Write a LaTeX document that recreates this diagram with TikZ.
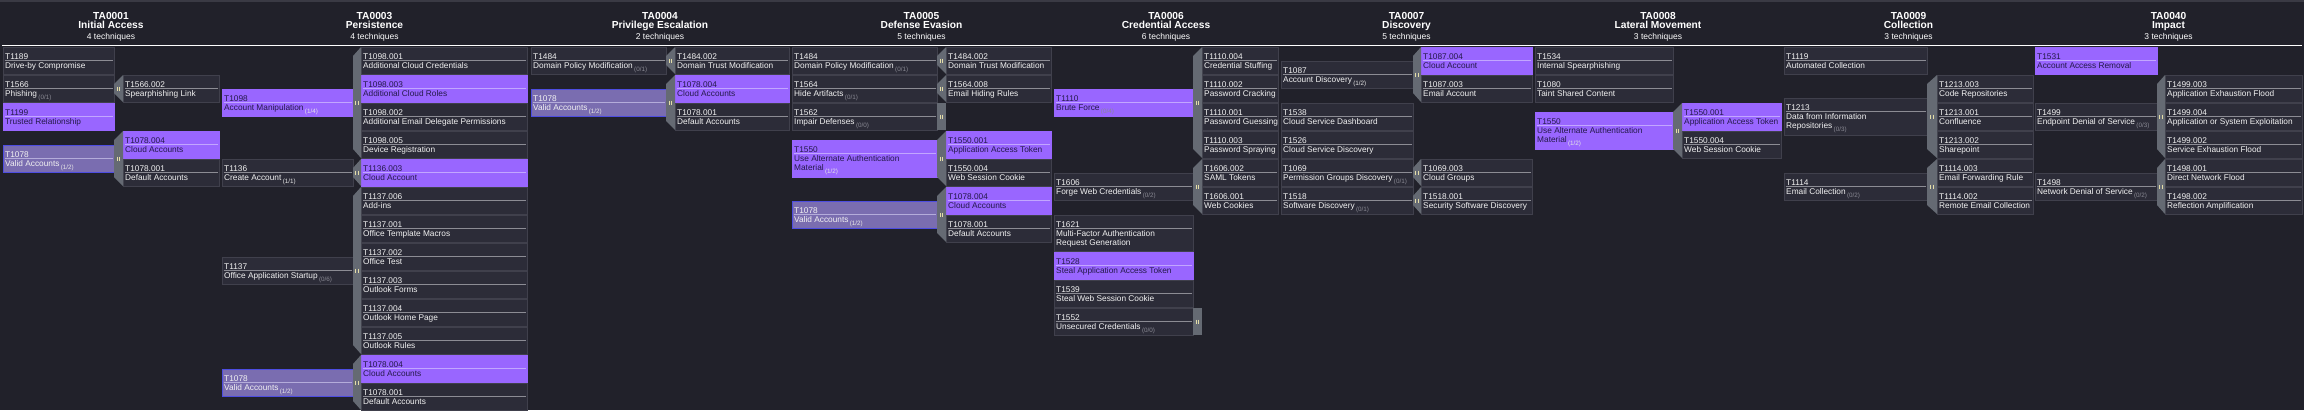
\documentclass[tikz,border=0pt]{standalone}
\usepackage{fontspec}
\setmainfont{Liberation Sans}
\usetikzlibrary{calc}
\usepackage{xcolor}
\definecolor{bgdark}{HTML}{21212A}
\definecolor{topstrip}{HTML}{3A3A44}
\definecolor{cellplainfill}{HTML}{2C2C38}
\definecolor{cellplainedge}{HTML}{40404C}
\definecolor{cellplainsep}{HTML}{8C8C94}
\definecolor{cellplaintxt}{HTML}{F2F2F2}
\definecolor{cellhifill}{HTML}{9966FF}
\definecolor{cellhisep}{HTML}{C2A6FF}
\definecolor{cellhitxt}{HTML}{24194A}
\definecolor{cellpartfill}{HTML}{7A6DB0}
\definecolor{cellpartedge}{HTML}{4D4DE0}
\definecolor{cellpartsep}{HTML}{B4ACDA}
\definecolor{cellparttxt}{HTML}{F2F2F2}
\definecolor{sidegray}{HTML}{656A73}
\definecolor{gripcol}{HTML}{E4DDA8}
\definecolor{cntoff}{HTML}{8A8A94}
\definecolor{cnton}{HTML}{E6E6E6}
\newcommand{\Cnt}[1]{\,\raisebox{-2.5pt}{\fontsize{6.3}{7}\selectfont\textcolor{cntoff}{(#1)}}}
\newcommand{\CntOn}[1]{\,\raisebox{-2.5pt}{\fontsize{6.3}{7}\selectfont\textcolor{cnton}{(#1)}}}
\tikzset{
  cellplain/.style={draw=cellplainedge,fill=cellplainfill,line width=0.8pt,inner sep=0pt,outer sep=0pt},
  cellhi/.style={draw=cellhifill,fill=cellhifill,line width=0.8pt,inner sep=0pt,outer sep=0pt},
  cellpart/.style={draw=cellpartedge,fill=cellpartfill,line width=0.8pt,inner sep=0pt,outer sep=0pt},
  celltext/.style={anchor=base west,inner sep=0pt,font=\fontsize{8.3}{9}\selectfont},
  headtext/.style={anchor=base,inner sep=0pt,text=white},
  sidebar/.style={fill=sidegray},
  grip/.style={draw=gripcol,line width=0.8pt}
}
% one technique / sub-technique cell
\newcommand{\Tech}[8]{%
  \node[#2,anchor=north west,minimum width=#5,minimum height=#6] (#1) at (#3,#4) {};
  \draw[#2sep,line width=1.3pt] ($(#1.north west)+(1.5,13.8)$) -- ($(#1.north east)+(-1.5,13.8)$);
  \node[celltext,text=#2txt] (#1-id) at ($(#1.north west)+(2,12.6)$) {#7};
  \node[celltext,text=#2txt] (#1-name) at ($(#1.north west)+(2,21.7)$) {\begin{tabular}[t]{@{}l@{}}#8\end{tabular}};
}
\newcommand{\Grip}[1]{\draw[grip] ($(#1)+(-1.2,-2)$) -- ++(0,4) ($(#1)+(1.2,-2)$) -- ++(0,4);}
\newcommand{\Side}[3]{%
  \fill[sidebar] (#2.north west) -- ($(#1.east |- #2.north)+(0,9)$) -- ($(#1.east |- #3.south)+(0,-9)$) -- (#3.south west) -- cycle;
  \coordinate (#1-grip) at ($(#1.east |- #2.north)!0.5!(#3.south west)$);
  \Grip{#1-grip}
}
\newcommand{\SideBox}[1]{%
  \fill[sidebar] (#1.north east) rectangle ($(#1.south east)+(9,0)$);
  \coordinate (#1-grip) at ($(#1.east)+(4.5,0)$);
  \Grip{#1-grip}
}
\newcommand{\Head}[5]{%
  \node[headtext,font=\bfseries\fontsize{10.2}{11}\selectfont] (#1-id) at (#2,19.3) {#3};
  \node[headtext,font=\bfseries\fontsize{10.2}{11}\selectfont] (#1-name) at (#2,28.7) {#4};
  \node[headtext,font=\fontsize{8.5}{9}\selectfont] (#1-count) at (#2,39) {#5};
}

\begin{document}
\begin{tikzpicture}[x=1pt,y=-1pt]
\useasboundingbox (0,0) rectangle (2304,410);
\fill[bgdark] (0,0) rectangle (2304,410);
\fill[topstrip] (0,0) rectangle (2304,1.5);
\draw[white,line width=1pt] (2,45) -- (2302,45);
%
\Head{hia}{111}{TA0001}{Initial Access}{4 techniques}
\Head{hper}{374.5}{TA0003}{Persistence}{4 techniques}
\Head{hpe}{660}{TA0004}{Privilege Escalation}{2 techniques}
\Head{hde}{921.5}{TA0005}{Defense Evasion}{5 techniques}
\Head{hca}{1166}{TA0006}{Credential Access}{6 techniques}
\Head{hdi}{1406.5}{TA0007}{Discovery}{5 techniques}
\Head{hlm}{1658}{TA0008}{Lateral Movement}{3 techniques}
\Head{hco}{1908.5}{TA0009}{Collection}{3 techniques}
\Head{him}{2168.5}{TA0040}{Impact}{3 techniques}
%
% Initial Access
\Tech{ia1189}{cellplain}{3}{47}{111}{27}{T1189}{Drive-by Compromise}
\Tech{ia1566}{cellplain}{3}{75}{111}{27}{T1566}{Phishing\Cnt{0/1}}
\Tech{ia1566-2}{cellplain}{123}{75}{96}{27}{T1566.002}{Spearphishing Link}
\Side{ia1566}{ia1566-2}{ia1566-2}
\Tech{ia1199}{cellhi}{3}{103}{111}{27}{T1199}{Trusted Relationship}
\Tech{ia1078}{cellpart}{3}{145}{111}{27}{T1078}{Valid Accounts\CntOn{1/2}}
\Tech{ia1078-4}{cellhi}{123}{131}{96}{27}{T1078.004}{Cloud Accounts}
\Tech{ia1078-1}{cellplain}{123}{159}{96}{27}{T1078.001}{Default Accounts}
\Side{ia1078}{ia1078-4}{ia1078-1}
%
% Persistence
\Tech{per1098}{cellhi}{222}{89}{131}{27}{T1098}{Account Manipulation\CntOn{1/4}}
\Tech{per1098-1}{cellplain}{361}{47}{166}{27}{T1098.001}{Additional Cloud Credentials}
\Tech{per1098-3}{cellhi}{361}{75}{166}{27}{T1098.003}{Additional Cloud Roles}
\Tech{per1098-2}{cellplain}{361}{103}{166}{27}{T1098.002}{Additional Email Delegate Permissions}
\Tech{per1098-5}{cellplain}{361}{131}{166}{27}{T1098.005}{Device Registration}
\Side{per1098}{per1098-1}{per1098-5}
\Tech{per1136}{cellplain}{222}{159}{131}{27}{T1136}{Create Account\CntOn{1/1}}
\Tech{per1136-3}{cellhi}{361}{159}{166}{27}{T1136.003}{Cloud Account}
\Side{per1136}{per1136-3}{per1136-3}
\Tech{per1137}{cellplain}{222}{257}{131}{27}{T1137}{Office Application Startup\Cnt{0/6}}
\Tech{per1137-6}{cellplain}{361}{187}{166}{27}{T1137.006}{Add-ins}
\Tech{per1137-1}{cellplain}{361}{215}{166}{27}{T1137.001}{Office Template Macros}
\Tech{per1137-2}{cellplain}{361}{243}{166}{27}{T1137.002}{Office Test}
\Tech{per1137-3}{cellplain}{361}{271}{166}{27}{T1137.003}{Outlook Forms}
\Tech{per1137-4}{cellplain}{361}{299}{166}{27}{T1137.004}{Outlook Home Page}
\Tech{per1137-5}{cellplain}{361}{327}{166}{27}{T1137.005}{Outlook Rules}
\Side{per1137}{per1137-6}{per1137-5}
\Tech{per1078}{cellpart}{222}{369}{131}{27}{T1078}{Valid Accounts\CntOn{1/2}}
\Tech{per1078-4}{cellhi}{361}{355}{166}{27}{T1078.004}{Cloud Accounts}
\Tech{per1078-1}{cellplain}{361}{383}{166}{27}{T1078.001}{Default Accounts}
\Side{per1078}{per1078-4}{per1078-1}
%
% Privilege Escalation
\Tech{pe1484}{cellplain}{531}{47}{135}{27}{T1484}{Domain Policy Modification\Cnt{0/1}}
\Tech{pe1484-2}{cellplain}{675}{47}{114}{27}{T1484.002}{Domain Trust Modification}
\Side{pe1484}{pe1484-2}{pe1484-2}
\Tech{pe1078}{cellpart}{531}{89}{135}{27}{T1078}{Valid Accounts\CntOn{1/2}}
\Tech{pe1078-4}{cellhi}{675}{75}{114}{27}{T1078.004}{Cloud Accounts}
\Tech{pe1078-1}{cellplain}{675}{103}{114}{27}{T1078.001}{Default Accounts}
\Side{pe1078}{pe1078-4}{pe1078-1}
%
% Defense Evasion
\Tech{de1484}{cellplain}{792}{47}{145}{27}{T1484}{Domain Policy Modification\Cnt{0/1}}
\Tech{de1484-2}{cellplain}{946}{47}{105}{27}{T1484.002}{Domain Trust Modification}
\Side{de1484}{de1484-2}{de1484-2}
\Tech{de1564}{cellplain}{792}{75}{145}{27}{T1564}{Hide Artifacts\Cnt{0/1}}
\Tech{de1564-8}{cellplain}{946}{75}{105}{27}{T1564.008}{Email Hiding Rules}
\Side{de1564}{de1564-8}{de1564-8}
\Tech{de1562}{cellplain}{792}{103}{145}{27}{T1562}{Impair Defenses\Cnt{0/0}}
\SideBox{de1562}
\Tech{de1550}{cellhi}{792}{140}{145}{37}{T1550}{Use Alternate Authentication\\Material\CntOn{1/2}}
\Tech{de1550-1}{cellhi}{946}{131}{105}{27}{T1550.001}{Application Access Token}
\Tech{de1550-4}{cellplain}{946}{159}{105}{27}{T1550.004}{Web Session Cookie}
\Side{de1550}{de1550-1}{de1550-4}
\Tech{de1078}{cellpart}{792}{201}{145}{27}{T1078}{Valid Accounts\CntOn{1/2}}
\Tech{de1078-4}{cellhi}{946}{187}{105}{27}{T1078.004}{Cloud Accounts}
\Tech{de1078-1}{cellplain}{946}{215}{105}{27}{T1078.001}{Default Accounts}
\Side{de1078}{de1078-4}{de1078-1}
%
% Credential Access
\Tech{ca1110}{cellhi}{1054}{89}{139}{27}{T1110}{Brute Force\Cnt{0/4}}
\Tech{ca1110-4}{cellplain}{1202}{47}{76}{27}{T1110.004}{Credential Stuffing}
\Tech{ca1110-2}{cellplain}{1202}{75}{76}{27}{T1110.002}{Password Cracking}
\Tech{ca1110-1}{cellplain}{1202}{103}{76}{27}{T1110.001}{Password Guessing}
\Tech{ca1110-3}{cellplain}{1202}{131}{76}{27}{T1110.003}{Password Spraying}
\Side{ca1110}{ca1110-4}{ca1110-3}
\Tech{ca1606}{cellplain}{1054}{173}{139}{27}{T1606}{Forge Web Credentials\Cnt{0/2}}
\Tech{ca1606-2}{cellplain}{1202}{159}{76}{27}{T1606.002}{SAML Tokens}
\Tech{ca1606-1}{cellplain}{1202}{187}{76}{27}{T1606.001}{Web Cookies}
\Side{ca1606}{ca1606-2}{ca1606-1}
\Tech{ca1621}{cellplain}{1054}{215}{139}{36}{T1621}{Multi-Factor Authentication\\Request Generation}
\Tech{ca1528}{cellhi}{1054}{252}{139}{27}{T1528}{Steal Application Access Token}
\Tech{ca1539}{cellplain}{1054}{280}{139}{27}{T1539}{Steal Web Session Cookie}
\Tech{ca1552}{cellplain}{1054}{308}{139}{27}{T1552}{Unsecured Credentials\Cnt{0/0}}
\SideBox{ca1552}
%
% Discovery
\Tech{di1087}{cellplain}{1281}{61}{132}{27}{T1087}{Account Discovery\CntOn{1/2}}
\Tech{di1087-4}{cellhi}{1421}{47}{111}{27}{T1087.004}{Cloud Account}
\Tech{di1087-3}{cellplain}{1421}{75}{111}{27}{T1087.003}{Email Account}
\Side{di1087}{di1087-4}{di1087-3}
\Tech{di1538}{cellplain}{1281}{103}{132}{27}{T1538}{Cloud Service Dashboard}
\Tech{di1526}{cellplain}{1281}{131}{132}{27}{T1526}{Cloud Service Discovery}
\Tech{di1069}{cellplain}{1281}{159}{132}{27}{T1069}{Permission Groups Discovery\Cnt{0/1}}
\Tech{di1069-3}{cellplain}{1421}{159}{111}{27}{T1069.003}{Cloud Groups}
\Side{di1069}{di1069-3}{di1069-3}
\Tech{di1518}{cellplain}{1281}{187}{132}{27}{T1518}{Software Discovery\Cnt{0/1}}
\Tech{di1518-1}{cellplain}{1421}{187}{111}{27}{T1518.001}{Security Software Discovery}
\Side{di1518}{di1518-1}{di1518-1}
%
% Lateral Movement
\Tech{lm1534}{cellplain}{1535}{47}{138}{27}{T1534}{Internal Spearphishing}
\Tech{lm1080}{cellplain}{1535}{75}{138}{27}{T1080}{Taint Shared Content}
\Tech{lm1550}{cellhi}{1535}{112}{138}{37}{T1550}{Use Alternate Authentication\\Material\CntOn{1/2}}
\Tech{lm1550-1}{cellhi}{1682}{103}{99}{27}{T1550.001}{Application Access Token}
\Tech{lm1550-4}{cellplain}{1682}{131}{99}{27}{T1550.004}{Web Session Cookie}
\Side{lm1550}{lm1550-1}{lm1550-4}
%
% Collection
\Tech{co1119}{cellplain}{1784}{47}{143}{27}{T1119}{Automated Collection}
\Tech{co1213}{cellplain}{1784}{98}{143}{37}{T1213}{Data from Information\\Repositories\Cnt{0/3}}
\Tech{co1213-3}{cellplain}{1937}{75}{96}{27}{T1213.003}{Code Repositories}
\Tech{co1213-1}{cellplain}{1937}{103}{96}{27}{T1213.001}{Confluence}
\Tech{co1213-2}{cellplain}{1937}{131}{96}{27}{T1213.002}{Sharepoint}
\Side{co1213}{co1213-3}{co1213-2}
\Tech{co1114}{cellplain}{1784}{173}{143}{27}{T1114}{Email Collection\Cnt{0/2}}
\Tech{co1114-3}{cellplain}{1937}{159}{96}{27}{T1114.003}{Email Forwarding Rule}
\Tech{co1114-2}{cellplain}{1937}{187}{96}{27}{T1114.002}{Remote Email Collection}
\Side{co1114}{co1114-3}{co1114-2}
%
% Impact
\Tech{im1531}{cellhi}{2035}{47}{122}{27}{T1531}{Account Access Removal}
\Tech{im1499}{cellplain}{2035}{103}{122}{27}{T1499}{Endpoint Denial of Service\Cnt{0/3}}
\Tech{im1499-3}{cellplain}{2165}{75}{137}{27}{T1499.003}{Application Exhaustion Flood}
\Tech{im1499-4}{cellplain}{2165}{103}{137}{27}{T1499.004}{Application or System Exploitation}
\Tech{im1499-2}{cellplain}{2165}{131}{137}{27}{T1499.002}{Service Exhaustion Flood}
\Side{im1499}{im1499-3}{im1499-2}
\Tech{im1498}{cellplain}{2035}{173}{122}{27}{T1498}{Network Denial of Service\Cnt{0/2}}
\Tech{im1498-1}{cellplain}{2165}{159}{137}{27}{T1498.001}{Direct Network Flood}
\Tech{im1498-2}{cellplain}{2165}{187}{137}{27}{T1498.002}{Reflection Amplification}
\Side{im1498}{im1498-1}{im1498-2}
\end{tikzpicture}
\end{document}
